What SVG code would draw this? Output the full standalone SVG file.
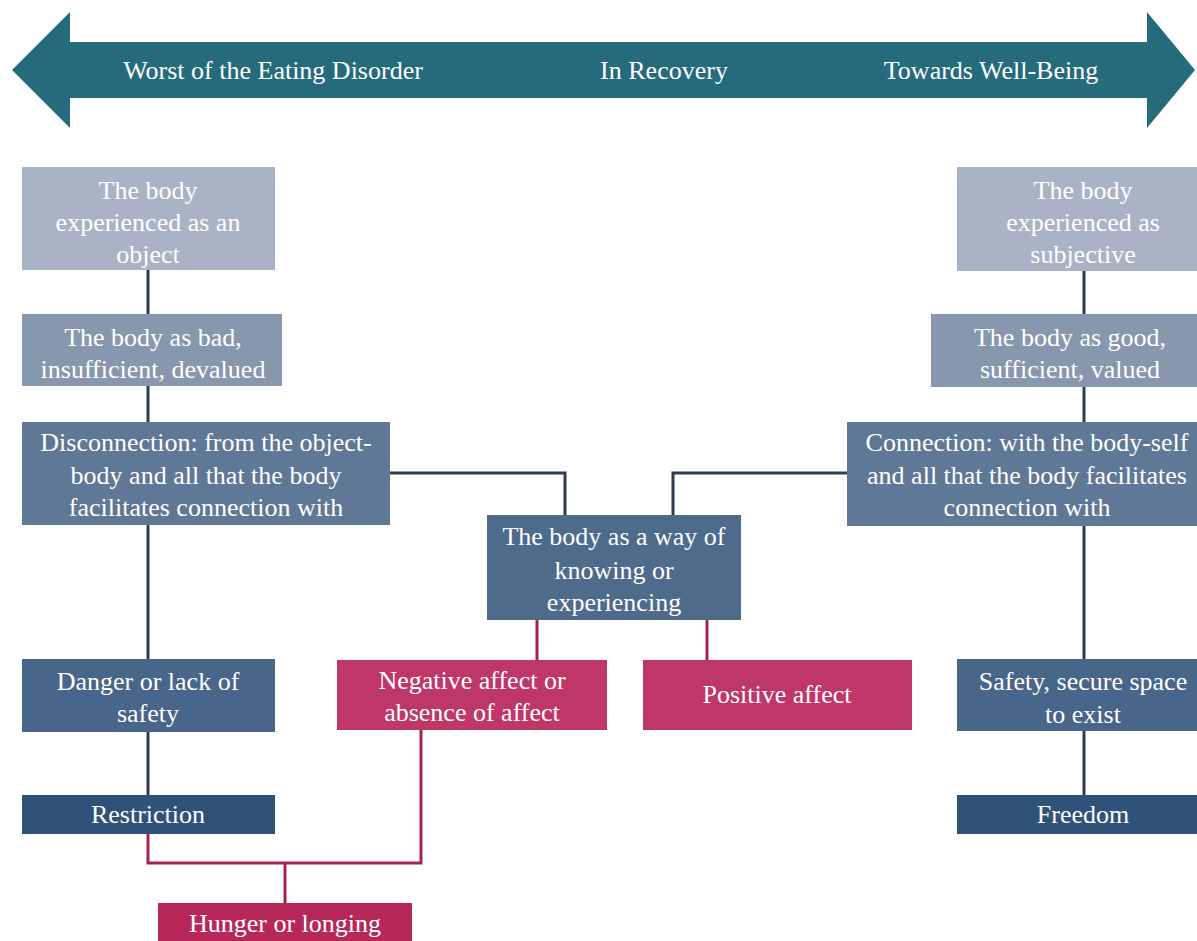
<svg xmlns="http://www.w3.org/2000/svg" width="1197" height="941" viewBox="0 0 1197 941">
<style>
text{font-family:'Liberation Serif','Times New Roman',serif;font-size:26px;fill:#fff;text-anchor:middle}
.c1{fill:#a8b4c5}
.c2{fill:#8797ae}
.c3{fill:#5f7895}
.c4{fill:#4e6b8b}
.c5{fill:#48658a}
.c6{fill:#2f5279}
.pk{fill:#bf3668}
.pk2{fill:#b8275a}
.ln{fill:none;stroke:#2e3c52;stroke-width:3}
.lp{fill:none;stroke:#a3244f;stroke-width:3}
</style>
<g id="timeline">
<polygon points="12,70 70,12 70,42 1147,42 1147,12 1195,70 1147,128 1147,98 70,98 70,128" fill="#266b7b"/>
<text x="273" y="79">Worst of the Eating Disorder</text>
<text x="664" y="79">In Recovery</text>
<text x="991" y="79">Towards Well-Being</text>
</g>
<g id="connectors">
<path class="ln" d="M148,270 V314 M148,386 V422 M148,525 V659 M148,732 V795"/>
<path class="ln" d="M1084,271 V314 M1084,386 V422 M1084,525 V659 M1084,731 V795"/>
<path class="ln" d="M390,473 H565 V515 M847,473 H673 V515"/>
<path class="lp" d="M537,620 V660 M707,620 V660"/>
<path class="lp" d="M148,834 V863 H421 V730 M285,863 V903"/>
</g>
<g id="n-object"><rect class="c1" x="22" y="167" width="253" height="103"/><text x="148" y="199">The body</text><text x="148" y="231">experienced as an</text><text x="148" y="263">object</text></g>
<g id="n-bad"><rect class="c2" x="22" y="314" width="260" height="72"/><text x="153" y="346">The body as bad,</text><text x="153" y="378">insufficient, devalued</text></g>
<g id="n-disconnection"><rect class="c3" x="22" y="422" width="368" height="103"/><text x="206" y="451">Disconnection: from the object-</text><text x="206" y="484">body and all that the body</text><text x="206" y="516">facilitates connection with</text></g>
<g id="n-knowing"><rect class="c4" x="487" y="515" width="254" height="105"/><text x="614" y="545">The body as a way of</text><text x="614" y="579">knowing or</text><text x="614" y="611">experiencing</text></g>
<g id="n-negative"><rect class="pk" x="337" y="660" width="270" height="70"/><text x="472" y="689">Negative affect or</text><text x="472" y="721">absence of affect</text></g>
<g id="n-positive"><rect class="pk" x="643" y="660" width="269" height="70"/><text x="777" y="703">Positive affect</text></g>
<g id="n-danger"><rect class="c5" x="22" y="659" width="253" height="73"/><text x="148" y="690">Danger or lack of</text><text x="148" y="722">safety</text></g>
<g id="n-restriction"><rect class="c6" x="22" y="795" width="253" height="39"/><text x="148" y="823">Restriction</text></g>
<g id="n-hunger"><rect class="pk2" x="158" y="903" width="254" height="40"/><text x="285" y="932">Hunger or longing</text></g>
<g id="n-subjective"><rect class="c1" x="957" y="167" width="253" height="104"/><text x="1083" y="199">The body</text><text x="1083" y="231">experienced as</text><text x="1083" y="263">subjective</text></g>
<g id="n-good"><rect class="c2" x="931" y="314" width="279" height="73"/><text x="1070" y="346">The body as good,</text><text x="1070" y="378">sufficient, valued</text></g>
<g id="n-connection"><rect class="c3" x="847" y="422" width="363" height="104"/><text x="1027" y="451">Connection: with the body-self</text><text x="1027" y="484">and all that the body facilitates</text><text x="1027" y="516">connection with</text></g>
<g id="n-safety"><rect class="c5" x="957" y="659" width="253" height="72"/><text x="1083" y="690">Safety, secure space</text><text x="1083" y="723">to exist</text></g>
<g id="n-freedom"><rect class="c6" x="957" y="795" width="253" height="39"/><text x="1083" y="823">Freedom</text></g>
</svg>
